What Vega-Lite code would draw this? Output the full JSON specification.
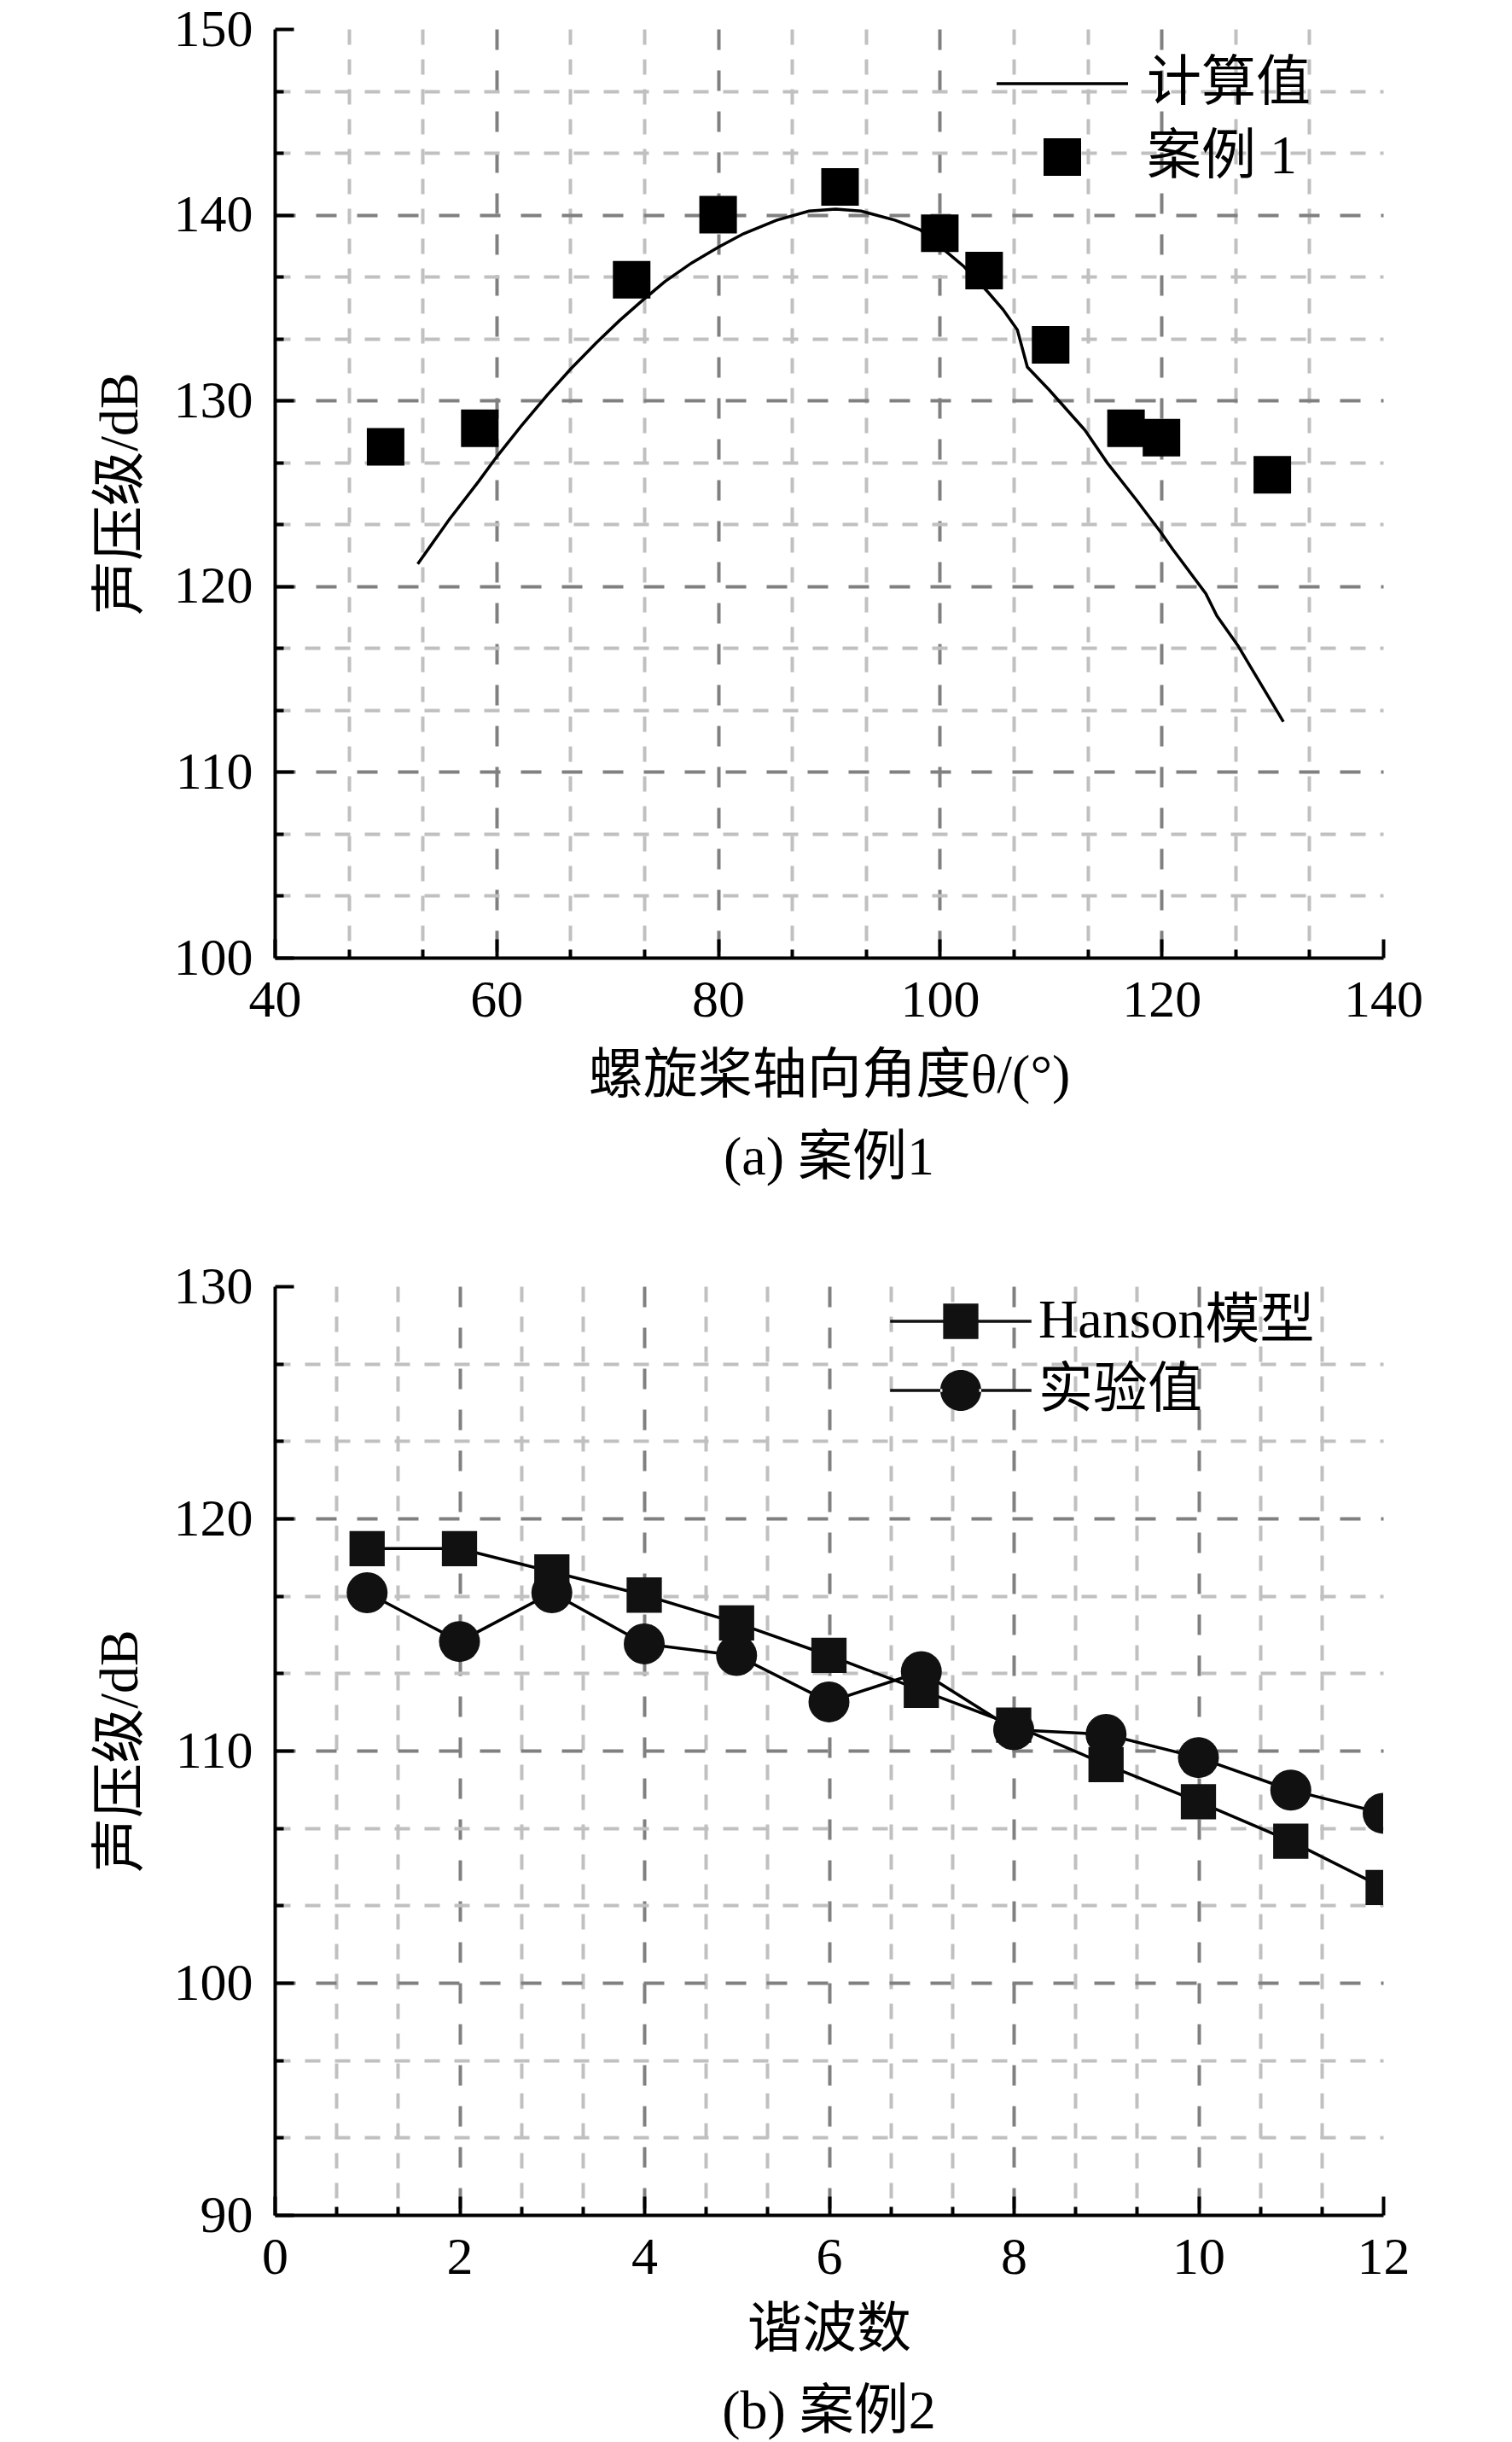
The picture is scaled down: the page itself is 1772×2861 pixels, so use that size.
{
  "$schema": "https://vega.github.io/schema/vega-lite/v6.json",
  "padding": {"left": 109, "top": 3, "right": 5, "bottom": 5},
  "background": "white",
  "spacing": 87,
  "resolve": {"scale": {"shape": "independent", "size": "independent"}, "legend": {"shape": "independent", "size": "independent"}},
  "config": {
    "font": "Liberation Serif, Noto Sans CJK SC",
    "view": {"stroke": null},
    "axis": {
      "labelFont": "Liberation Serif, Noto Sans CJK SC",
      "titleFont": "Liberation Serif, Noto Sans CJK SC",
      "labelFontSize": 62,
      "titleFontSize": 64,
      "titleFontWeight": "normal",
      "labelColor": "black",
      "titleColor": "black",
      "tickColor": "black",
      "domainColor": "black",
      "labelFlush": false
    },
    "legend": {
      "labelFont": "Liberation Serif, Noto Sans CJK SC",
      "labelFontSize": 64,
      "labelColor": "black",
      "labelLimit": 600
    },
    "title": {
      "font": "Liberation Serif, Noto Sans CJK SC",
      "fontSize": 64,
      "fontWeight": "normal",
      "color": "black"
    }
  },
  "datasets": {
    "curveA": [
      {"angle": 52.9, "spl": 121.2}, {"angle": 55.75, "spl": 123.6}, {"angle": 58.4, "spl": 125.65},
      {"angle": 60.0, "spl": 126.95}, {"angle": 62.2, "spl": 128.6}, {"angle": 64.6, "spl": 130.3},
      {"angle": 66.7, "spl": 131.7}, {"angle": 69.0, "spl": 133.1}, {"angle": 71.1, "spl": 134.3},
      {"angle": 73.2, "spl": 135.4}, {"angle": 75.2, "spl": 136.4}, {"angle": 77.6, "spl": 137.4},
      {"angle": 80.0, "spl": 138.25}, {"angle": 82.3, "spl": 138.98}, {"angle": 85.25, "spl": 139.7},
      {"angle": 88.2, "spl": 140.2}, {"angle": 90.6, "spl": 140.3}, {"angle": 92.9, "spl": 140.2},
      {"angle": 96.0, "spl": 139.7}, {"angle": 98.2, "spl": 139.2}, {"angle": 100.7, "spl": 137.95},
      {"angle": 102.2, "spl": 137.2}, {"angle": 104.4, "spl": 135.8}, {"angle": 105.7, "spl": 134.9},
      {"angle": 107.0, "spl": 133.8}, {"angle": 107.9, "spl": 131.8}, {"angle": 109.9, "spl": 130.55},
      {"angle": 113.1, "spl": 128.4}, {"angle": 115.1, "spl": 126.65}, {"angle": 117.8, "spl": 124.6},
      {"angle": 120.0, "spl": 122.85}, {"angle": 121.0, "spl": 122.0}, {"angle": 124.0, "spl": 119.6},
      {"angle": 125.0, "spl": 118.4}, {"angle": 126.9, "spl": 116.8}, {"angle": 128.1, "spl": 115.6},
      {"angle": 131.0, "spl": 112.7}
    ],
    "pointsA": [
      {"angle": 50.0, "spl": 127.5, "series": "案例 1"},
      {"angle": 58.5, "spl": 128.5, "series": "案例 1"},
      {"angle": 72.2, "spl": 136.5, "series": "案例 1"},
      {"angle": 80.0, "spl": 140.0, "series": "案例 1"},
      {"angle": 91.0, "spl": 141.5, "series": "案例 1"},
      {"angle": 100.0, "spl": 139.0, "series": "案例 1"},
      {"angle": 104.0, "spl": 137.0, "series": "案例 1"},
      {"angle": 110.0, "spl": 133.0, "series": "案例 1"},
      {"angle": 116.8, "spl": 128.5, "series": "案例 1"},
      {"angle": 120.0, "spl": 128.0, "series": "案例 1"},
      {"angle": 130.0, "spl": 126.0, "series": "案例 1"}
    ],
    "caseB": [
      {"n": 1, "spl": 118.7, "series": "Hanson模型"},
      {"n": 2, "spl": 118.7, "series": "Hanson模型"},
      {"n": 3, "spl": 117.7, "series": "Hanson模型"},
      {"n": 4, "spl": 116.7, "series": "Hanson模型"},
      {"n": 5, "spl": 115.5, "series": "Hanson模型"},
      {"n": 6, "spl": 114.1, "series": "Hanson模型"},
      {"n": 7, "spl": 112.6, "series": "Hanson模型"},
      {"n": 8, "spl": 111.1, "series": "Hanson模型"},
      {"n": 9, "spl": 109.4, "series": "Hanson模型"},
      {"n": 10, "spl": 107.8, "series": "Hanson模型"},
      {"n": 11, "spl": 106.1, "series": "Hanson模型"},
      {"n": 12, "spl": 104.1, "series": "Hanson模型"},
      {"n": 1, "spl": 116.8, "series": "实验值"},
      {"n": 2, "spl": 114.7, "series": "实验值"},
      {"n": 3, "spl": 116.8, "series": "实验值"},
      {"n": 4, "spl": 114.6, "series": "实验值"},
      {"n": 5, "spl": 114.1, "series": "实验值"},
      {"n": 6, "spl": 112.1, "series": "实验值"},
      {"n": 7, "spl": 113.4, "series": "实验值"},
      {"n": 8, "spl": 110.9, "series": "实验值"},
      {"n": 9, "spl": 110.7, "series": "实验值"},
      {"n": 10, "spl": 109.7, "series": "实验值"},
      {"n": 11, "spl": 108.3, "series": "实验值"},
      {"n": 12, "spl": 107.3, "series": "实验值"}
    ]
  },
  "vconcat": [
    {
      "width": 1299,
      "height": 1088,
      "title": {"text": "(a) 案例1", "orient": "bottom", "offset": 33},
      "resolve": {"axis": {"x": "independent", "y": "independent"}},
      "layer": [
        {
          "data": {"name": "curveA"},
          "mark": {"type": "line", "color": "black", "strokeWidth": 3.5},
          "encoding": {
            "x": {
              "field": "angle", "type": "quantitative",
              "scale": {"domain": [40, 140], "nice": false, "zero": false},
              "axis": {
                "orient": "bottom",
                "values": [46.667, 53.333, 66.667, 73.333, 86.667, 93.333, 106.667, 113.333, 126.667, 133.333],
                "grid": true, "gridColor": "#c0c0c0", "gridDash": [18, 17], "gridWidth": 4,
                "tickSize": -10, "tickWidth": 4, "labels": false, "domain": false, "title": null
              }
            },
            "y": {
              "field": "spl", "type": "quantitative",
              "scale": {"domain": [100, 150], "nice": false, "zero": false},
              "axis": {
                "orient": "left",
                "values": [103.333, 106.667, 113.333, 116.667, 123.333, 126.667, 133.333, 136.667, 143.333, 146.667],
                "grid": true, "gridColor": "#c0c0c0", "gridDash": [18, 17], "gridWidth": 4,
                "tickSize": -10, "tickWidth": 4, "labels": false, "domain": false, "title": null
              }
            }
          }
        },
        {
          "data": {"name": "pointsA"},
          "mark": {"type": "point", "filled": true, "opacity": 1, "color": "black", "size": 1936},
          "encoding": {
            "x": {
              "field": "angle", "type": "quantitative",
              "scale": {"domain": [40, 140], "nice": false, "zero": false},
              "axis": {
                "orient": "bottom",
                "values": [40, 60, 80, 100, 120, 140],
                "grid": true, "gridColor": "#808080", "gridDash": [24, 24], "gridWidth": 4,
                "gridOpacity": {"condition": {"test": "datum.value === 40 || datum.value === 140", "value": 0}, "value": 1},
                "tickSize": -22, "tickWidth": 4, "domainWidth": 4,
                "labelPadding": 41, "titlePadding": 26,
                "title": "螺旋桨轴向角度θ/(°)"
              }
            },
            "y": {
              "field": "spl", "type": "quantitative",
              "scale": {"domain": [100, 150], "nice": false, "zero": false},
              "axis": {
                "orient": "left",
                "values": [100, 110, 120, 130, 140, 150],
                "grid": true, "gridColor": "#808080", "gridDash": [24, 24], "gridWidth": 4,
                "gridOpacity": {"condition": {"test": "datum.value === 100 || datum.value === 150", "value": 0}, "value": 1},
                "tickSize": -22, "tickWidth": 4, "domainWidth": 4,
                "labelPadding": 48, "titlePadding": 30,
                "title": "声压级/dB"
              }
            },
            "shape": {
              "field": "series", "type": "nominal",
              "scale": {"domain": ["计算值", "案例 1"], "range": ["M-3.5,-0.075H3.5V0.075H-3.5Z", "M-1,-1H1V1H-1Z"]},
              "legend": {
                "title": null, "orient": "none", "legendX": 891, "legendY": 32,
                "padding": 0, "symbolSize": 1936, "labelOffset": 67, "rowPadding": 22,
                "symbolFillColor": "black", "symbolOpacity": 1
              }
            }
          }
        }
      ]
    },
    {
      "width": 1299,
      "height": 1088,
      "title": {"text": "(b) 案例2", "orient": "bottom", "offset": 33},
      "resolve": {"axis": {"x": "independent", "y": "independent"}, "scale": {"shape": "independent"}, "legend": {"shape": "independent"}},
      "layer": [
        {
          "data": {"name": "caseB"},
          "mark": {"type": "line", "color": "black", "strokeWidth": 3.5, "clip": true},
          "encoding": {
            "x": {
              "field": "n", "type": "quantitative",
              "scale": {"domain": [0, 12], "nice": false, "zero": false},
              "axis": {
                "orient": "bottom",
                "values": [0.667, 1.333, 2.667, 3.333, 4.667, 5.333, 6.667, 7.333, 8.667, 9.333, 10.667, 11.333],
                "grid": true, "gridColor": "#c0c0c0", "gridDash": [18, 17], "gridWidth": 4,
                "tickSize": -10, "tickWidth": 4, "labels": false, "domain": false, "title": null
              }
            },
            "y": {
              "field": "spl", "type": "quantitative",
              "scale": {"domain": [90, 130], "nice": false, "zero": false},
              "axis": {
                "orient": "left",
                "values": [93.333, 96.667, 103.333, 106.667, 113.333, 116.667, 123.333, 126.667],
                "grid": true, "gridColor": "#c0c0c0", "gridDash": [18, 17], "gridWidth": 4,
                "tickSize": -10, "tickWidth": 4, "labels": false, "domain": false, "title": null
              }
            },
            "detail": {"field": "series", "type": "nominal"}
          }
        },
        {
          "data": {"name": "caseB"},
          "mark": {"type": "point", "filled": true, "opacity": 1, "color": "#111111", "size": 2304, "clip": true},
          "encoding": {
            "x": {
              "field": "n", "type": "quantitative",
              "scale": {"domain": [0, 12], "nice": false, "zero": false},
              "axis": {
                "orient": "bottom",
                "values": [0, 2, 4, 6, 8, 10, 12],
                "grid": true, "gridColor": "#808080", "gridDash": [24, 24], "gridWidth": 4,
                "gridOpacity": {"condition": {"test": "datum.value === 0 || datum.value === 12", "value": 0}, "value": 1},
                "tickSize": -22, "tickWidth": 4, "domainWidth": 4,
                "labelPadding": 41, "titlePadding": 22,
                "title": "谐波数"
              }
            },
            "y": {
              "field": "spl", "type": "quantitative",
              "scale": {"domain": [90, 130], "nice": false, "zero": false},
              "axis": {
                "orient": "left",
                "values": [90, 100, 110, 120, 130],
                "grid": true, "gridColor": "#808080", "gridDash": [24, 24], "gridWidth": 4,
                "gridOpacity": {"condition": {"test": "datum.value === 90 || datum.value === 130", "value": 0}, "value": 1},
                "tickSize": -22, "tickWidth": 4, "domainWidth": 4,
                "labelPadding": 48, "titlePadding": 30,
                "title": "声压级/dB"
              }
            },
            "shape": {
              "field": "series", "type": "nominal",
              "scale": {
                "domain": ["Hanson模型", "实验值"],
                "range": ["M-0.86,-0.86H0.86V0.86H-0.86Z", "circle"]
              },
              "legend": null
            }
          }
        },
        {
          "data": {"name": "caseB"},
          "transform": [{"filter": "false"}],
          "mark": {"type": "point", "filled": true, "opacity": 1, "color": "#111111", "size": 2304},
          "encoding": {
            "shape": {
              "field": "series", "type": "nominal",
              "scale": {
                "domain": ["Hanson模型", "实验值"],
                "range": [
                  "M-3.45,-0.07H3.45V0.07H-3.45ZM-0.86,-0.86H0.86V0.86H-0.86Z",
                  "M-3.45,-0.07H-0.9V0.07H-3.45ZM0.9,-0.07H3.45V0.07H0.9ZM-1,0A1,1 0 1,0 1,0A1,1 0 1,0 -1,0Z"
                ]
              },
              "legend": {
                "title": null, "orient": "none", "legendX": 772, "legendY": 9,
                "padding": 0, "symbolSize": 2304, "labelOffset": 59, "rowPadding": 17,
                "symbolFillColor": "#111111", "symbolOpacity": 1
              }
            }
          }
        }
      ]
    }
  ]
}
